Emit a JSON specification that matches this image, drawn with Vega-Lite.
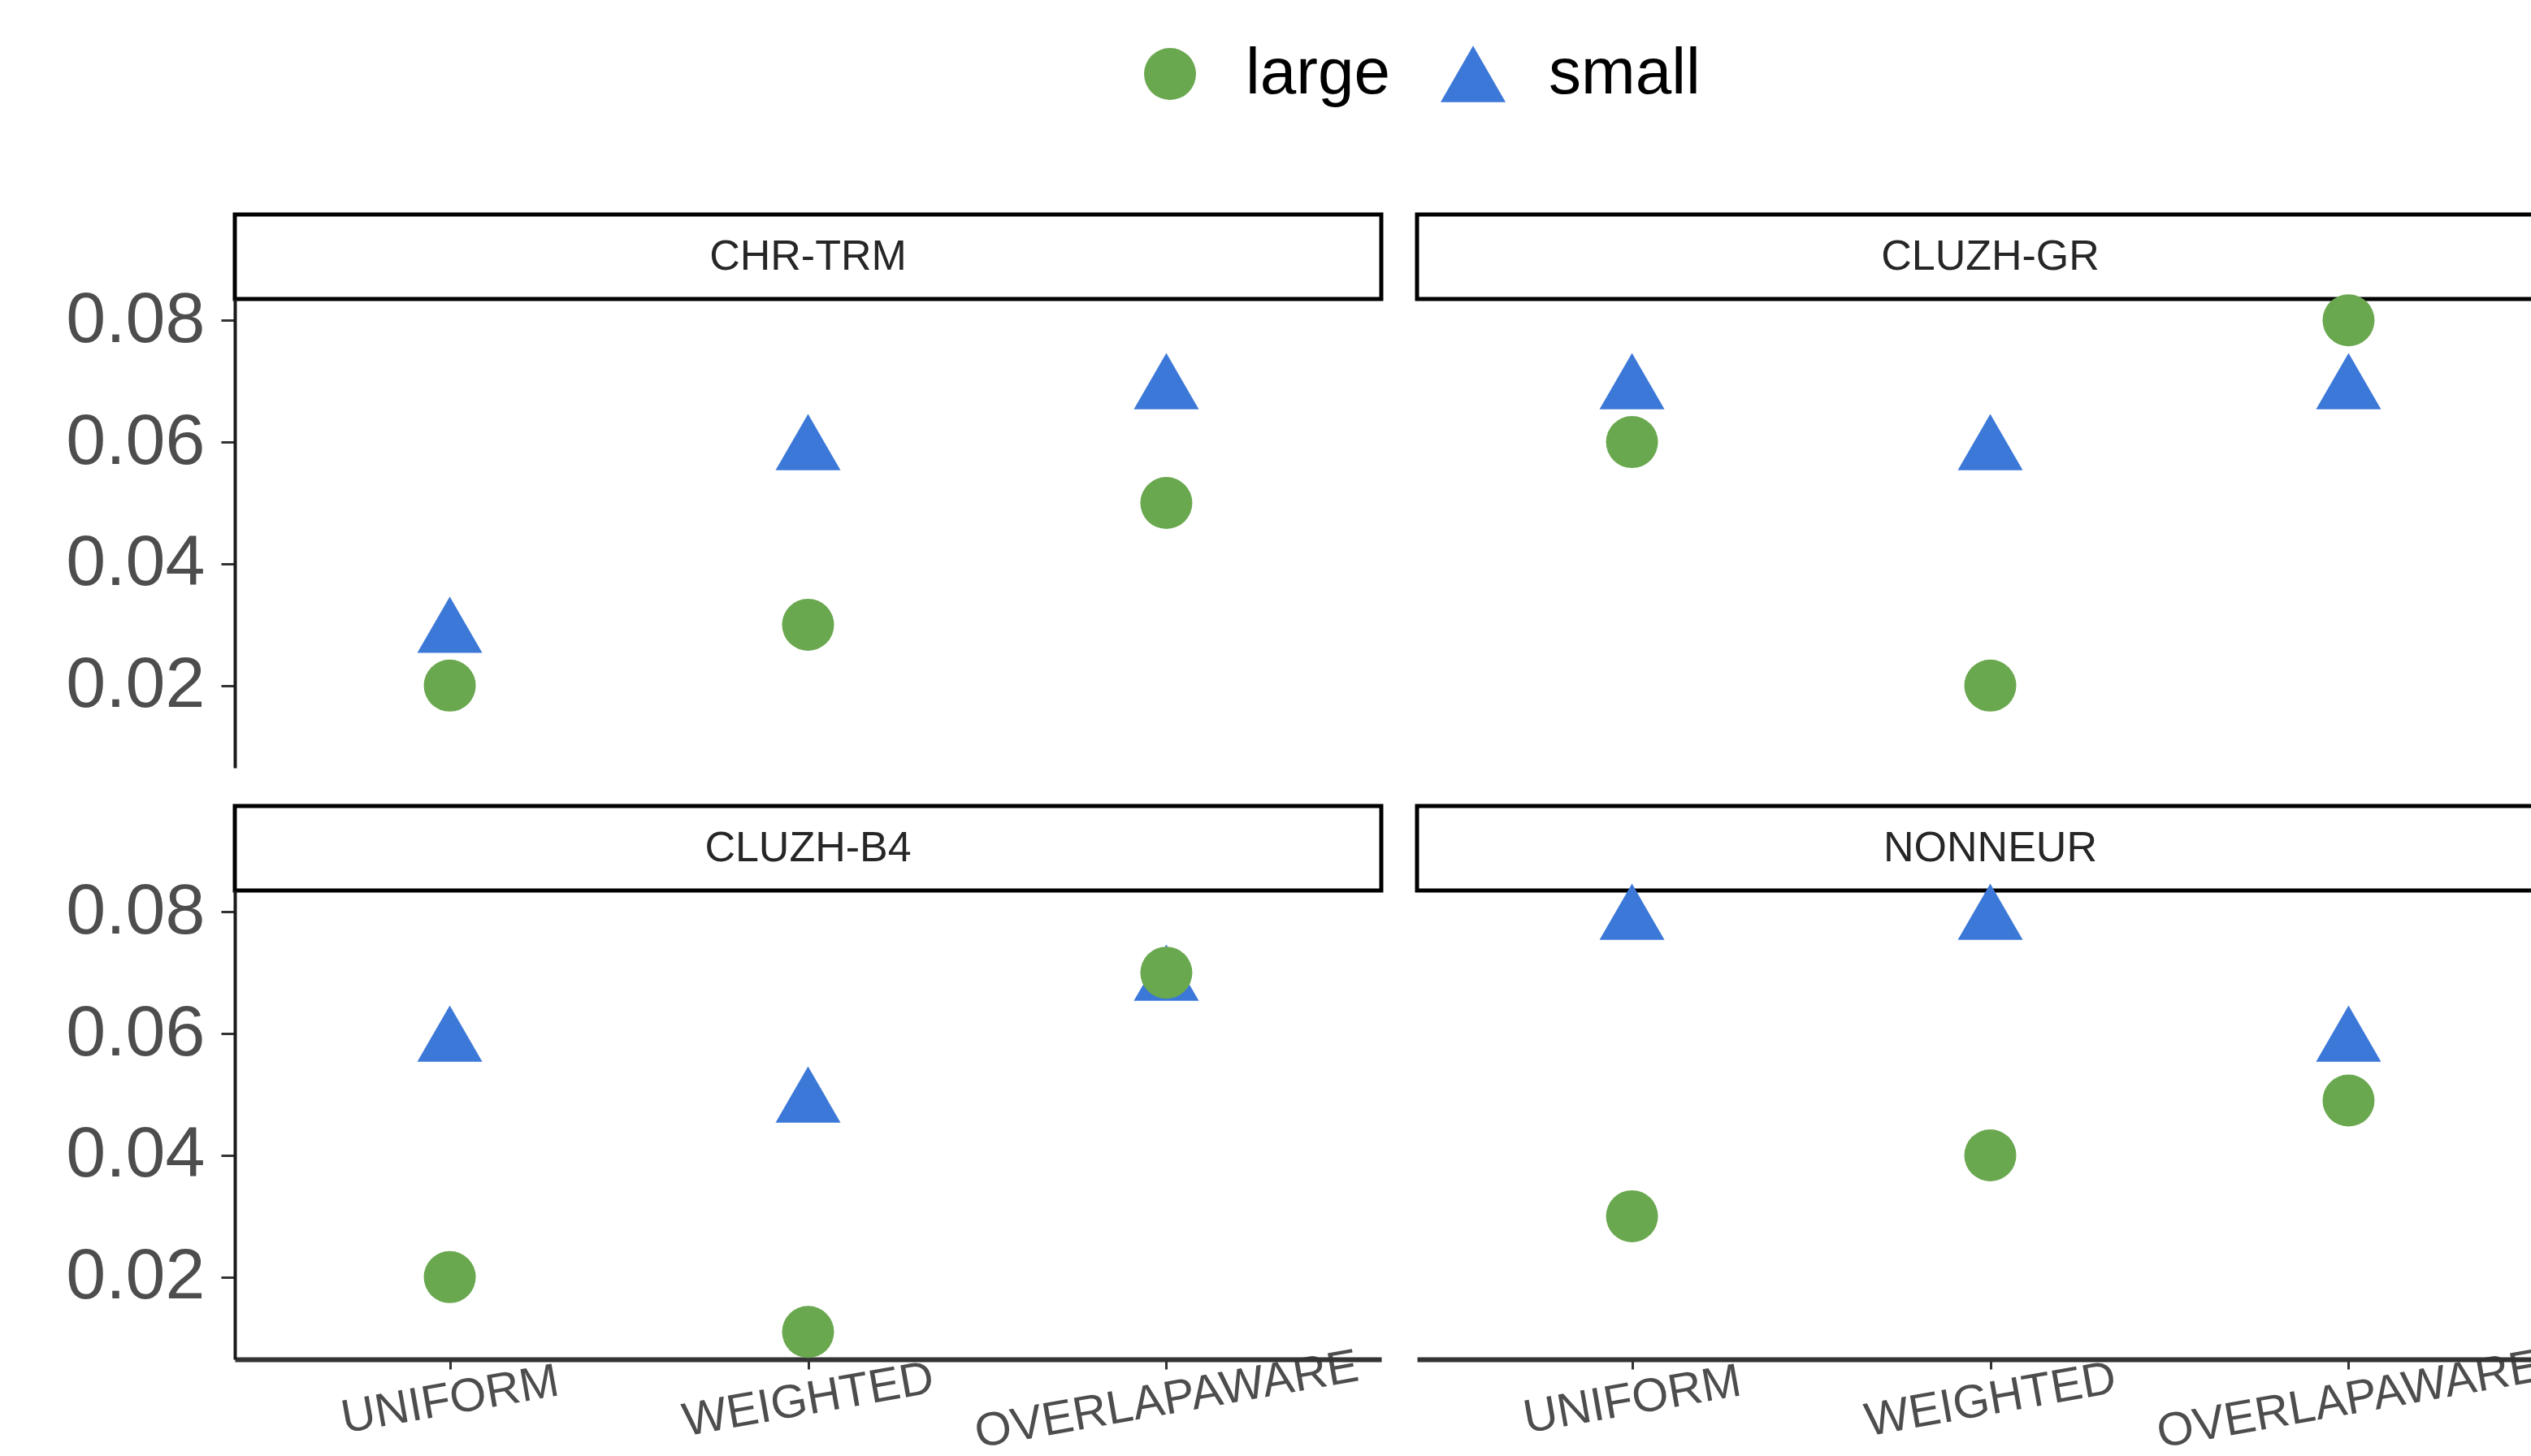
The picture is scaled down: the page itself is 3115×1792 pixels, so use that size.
{
  "$schema": "https://vega.github.io/schema/vega-lite/v6.json",
  "background": "white",
  "padding": {"left": 80, "top": 51, "right": 0, "bottom": 0},
  "datasets": {
    "pts": [
      {"panel": "CHR-TRM", "method": "UNIFORM", "group": "small", "value": 0.03},
      {"panel": "CHR-TRM", "method": "WEIGHTED", "group": "small", "value": 0.06},
      {"panel": "CHR-TRM", "method": "OVERLAPAWARE", "group": "small", "value": 0.07},
      {"panel": "CLUZH-GR", "method": "UNIFORM", "group": "small", "value": 0.07},
      {"panel": "CLUZH-GR", "method": "WEIGHTED", "group": "small", "value": 0.06},
      {"panel": "CLUZH-GR", "method": "OVERLAPAWARE", "group": "small", "value": 0.07},
      {"panel": "CLUZH-B4", "method": "UNIFORM", "group": "small", "value": 0.06},
      {"panel": "CLUZH-B4", "method": "WEIGHTED", "group": "small", "value": 0.05},
      {"panel": "CLUZH-B4", "method": "OVERLAPAWARE", "group": "small", "value": 0.07},
      {"panel": "NONNEUR", "method": "UNIFORM", "group": "small", "value": 0.08},
      {"panel": "NONNEUR", "method": "WEIGHTED", "group": "small", "value": 0.08},
      {"panel": "NONNEUR", "method": "OVERLAPAWARE", "group": "small", "value": 0.06},
      {"panel": "CHR-TRM", "method": "UNIFORM", "group": "large", "value": 0.02},
      {"panel": "CHR-TRM", "method": "WEIGHTED", "group": "large", "value": 0.03},
      {"panel": "CHR-TRM", "method": "OVERLAPAWARE", "group": "large", "value": 0.05},
      {"panel": "CLUZH-GR", "method": "UNIFORM", "group": "large", "value": 0.06},
      {"panel": "CLUZH-GR", "method": "WEIGHTED", "group": "large", "value": 0.02},
      {"panel": "CLUZH-GR", "method": "OVERLAPAWARE", "group": "large", "value": 0.08},
      {"panel": "CLUZH-B4", "method": "UNIFORM", "group": "large", "value": 0.02},
      {"panel": "CLUZH-B4", "method": "WEIGHTED", "group": "large", "value": 0.011},
      {"panel": "CLUZH-B4", "method": "OVERLAPAWARE", "group": "large", "value": 0.07},
      {"panel": "NONNEUR", "method": "UNIFORM", "group": "large", "value": 0.03},
      {"panel": "NONNEUR", "method": "WEIGHTED", "group": "large", "value": 0.04},
      {"panel": "NONNEUR", "method": "OVERLAPAWARE", "group": "large", "value": 0.049}
    ],
    "strips": [
      {"panel": "CHR-TRM"},
      {"panel": "CLUZH-GR"},
      {"panel": "CLUZH-B4"},
      {"panel": "NONNEUR"}
    ]
  },
  "columns": 2,
  "align": "none",
  "spacing": {"row": 44, "column": 38},
  "concat": [
    {
      "spacing": 0,
      "bounds": "flush",
      "vconcat": [
        {
          "width": 1411, "height": 104,
          "view": {"stroke": "black", "strokeWidth": 5, "fill": "white"},
          "data": {"name": "strips"},
          "transform": [{"filter": "datum.panel === 'CHR-TRM'"}],
          "mark": {"type": "text", "fontSize": 52, "color": "#262626"},
          "encoding": {"text": {"field": "panel"}}
        },
        {
          "width": 1411, "height": 577,
          "data": {"name": "pts"},
          "transform": [{"filter": "datum.panel === 'CHR-TRM'"}],
          "mark": {"type": "point", "filled": true, "opacity": 1},
          "encoding": {
            "x": {"field": "method", "type": "nominal", "scale": {"type": "point", "domain": ["UNIFORM", "WEIGHTED", "OVERLAPAWARE"], "padding": 0.6}, "axis": null},
            "y": {"field": "value", "type": "quantitative", "scale": {"domain": [0.0065, 0.0835], "nice": false, "zero": false},
                  "axis": {"values": [0.02, 0.04, 0.06, 0.08], "format": ".2f", "title": null}},
            "color": {"field": "group", "type": "nominal", "scale": {"domain": ["large", "small"], "range": ["#6AA84F", "#3C78D8"]}, "legend": {"title": null}},
            "shape": {"field": "group", "type": "nominal", "scale": {"domain": ["large", "small"], "range": ["circle", "triangle-up"]}, "legend": {"title": null}},
            "size": {"field": "group", "type": "nominal", "scale": {"domain": ["large", "small"], "range": [4096, 6400]}, "legend": {"title": null}}
          }
        }
      ]
    },
    {
      "spacing": 0,
      "bounds": "flush",
      "vconcat": [
        {
          "width": 1411, "height": 104,
          "view": {"stroke": "black", "strokeWidth": 5, "fill": "white"},
          "data": {"name": "strips"},
          "transform": [{"filter": "datum.panel === 'CLUZH-GR'"}],
          "mark": {"type": "text", "fontSize": 52, "color": "#262626"},
          "encoding": {"text": {"field": "panel"}}
        },
        {
          "width": 1411, "height": 577,
          "data": {"name": "pts"},
          "transform": [{"filter": "datum.panel === 'CLUZH-GR'"}],
          "mark": {"type": "point", "filled": true, "opacity": 1},
          "encoding": {
            "x": {"field": "method", "type": "nominal", "scale": {"type": "point", "domain": ["UNIFORM", "WEIGHTED", "OVERLAPAWARE"], "padding": 0.6}, "axis": null},
            "y": {"field": "value", "type": "quantitative", "scale": {"domain": [0.0065, 0.0835], "nice": false, "zero": false}, "axis": null},
            "color": {"field": "group", "type": "nominal", "scale": {"domain": ["large", "small"], "range": ["#6AA84F", "#3C78D8"]}, "legend": {"title": null}},
            "shape": {"field": "group", "type": "nominal", "scale": {"domain": ["large", "small"], "range": ["circle", "triangle-up"]}, "legend": {"title": null}},
            "size": {"field": "group", "type": "nominal", "scale": {"domain": ["large", "small"], "range": [4096, 6400]}, "legend": {"title": null}}
          }
        }
      ]
    },
    {
      "spacing": 0,
      "bounds": "flush",
      "vconcat": [
        {
          "width": 1411, "height": 104,
          "view": {"stroke": "black", "strokeWidth": 5, "fill": "white"},
          "data": {"name": "strips"},
          "transform": [{"filter": "datum.panel === 'CLUZH-B4'"}],
          "mark": {"type": "text", "fontSize": 52, "color": "#262626"},
          "encoding": {"text": {"field": "panel"}}
        },
        {
          "width": 1411, "height": 577,
          "data": {"name": "pts"},
          "transform": [{"filter": "datum.panel === 'CLUZH-B4'"}],
          "mark": {"type": "point", "filled": true, "opacity": 1},
          "encoding": {
            "x": {"field": "method", "type": "nominal", "scale": {"type": "point", "domain": ["UNIFORM", "WEIGHTED", "OVERLAPAWARE"], "padding": 0.6},
                  "axis": {"title": null, "labelAngle": -10, "labelAlign": "center", "labelBaseline": "middle", "labelPadding": 38}},
            "y": {"field": "value", "type": "quantitative", "scale": {"domain": [0.0065, 0.0835], "nice": false, "zero": false},
                  "axis": {"values": [0.02, 0.04, 0.06, 0.08], "format": ".2f", "title": null}},
            "color": {"field": "group", "type": "nominal", "scale": {"domain": ["large", "small"], "range": ["#6AA84F", "#3C78D8"]}, "legend": {"title": null}},
            "shape": {"field": "group", "type": "nominal", "scale": {"domain": ["large", "small"], "range": ["circle", "triangle-up"]}, "legend": {"title": null}},
            "size": {"field": "group", "type": "nominal", "scale": {"domain": ["large", "small"], "range": [4096, 6400]}, "legend": {"title": null}}
          }
        }
      ]
    },
    {
      "spacing": 0,
      "bounds": "flush",
      "vconcat": [
        {
          "width": 1411, "height": 104,
          "view": {"stroke": "black", "strokeWidth": 5, "fill": "white"},
          "data": {"name": "strips"},
          "transform": [{"filter": "datum.panel === 'NONNEUR'"}],
          "mark": {"type": "text", "fontSize": 52, "color": "#262626"},
          "encoding": {"text": {"field": "panel"}}
        },
        {
          "width": 1411, "height": 577,
          "data": {"name": "pts"},
          "transform": [{"filter": "datum.panel === 'NONNEUR'"}],
          "mark": {"type": "point", "filled": true, "opacity": 1},
          "encoding": {
            "x": {"field": "method", "type": "nominal", "scale": {"type": "point", "domain": ["UNIFORM", "WEIGHTED", "OVERLAPAWARE"], "padding": 0.6},
                  "axis": {"title": null, "labelAngle": -10, "labelAlign": "center", "labelBaseline": "middle", "labelPadding": 38}},
            "y": {"field": "value", "type": "quantitative", "scale": {"domain": [0.0065, 0.0835], "nice": false, "zero": false}, "axis": null},
            "color": {"field": "group", "type": "nominal", "scale": {"domain": ["large", "small"], "range": ["#6AA84F", "#3C78D8"]}, "legend": {"title": null}},
            "shape": {"field": "group", "type": "nominal", "scale": {"domain": ["large", "small"], "range": ["circle", "triangle-up"]}, "legend": {"title": null}},
            "size": {"field": "group", "type": "nominal", "scale": {"domain": ["large", "small"], "range": [4096, 6400]}, "legend": {"title": null}}
          }
        }
      ]
    }
  ],
  "config": {
    "font": "Liberation Sans",
    "view": {"stroke": null},
    "axis": {"grid": false, "labelColor": "#4D4D4D", "tickColor": "#333333", "domainColor": "#1A1A1A", "labelFont": "Liberation Sans", "labelLimit": 0},
    "axisY": {"labelFontSize": 88, "tickSize": 17, "tickWidth": 3, "domainWidth": 4, "labelPadding": 20},
    "axisX": {"labelFontSize": 58, "tickSize": 12, "tickWidth": 3, "domainWidth": 6, "domainColor": "#333333", "labelOverlap": false},
    "legend": {
      "orient": "none", "legendX": 1111, "legendY": -213, "direction": "horizontal",
      "labelFontSize": 80, "labelColor": "#000000", "labelFont": "Liberation Sans", "labelLimit": 0,
      "labelOffset": 53, "columnPadding": 62, "padding": 0, "symbolStrokeWidth": 0
    }
  }
}
